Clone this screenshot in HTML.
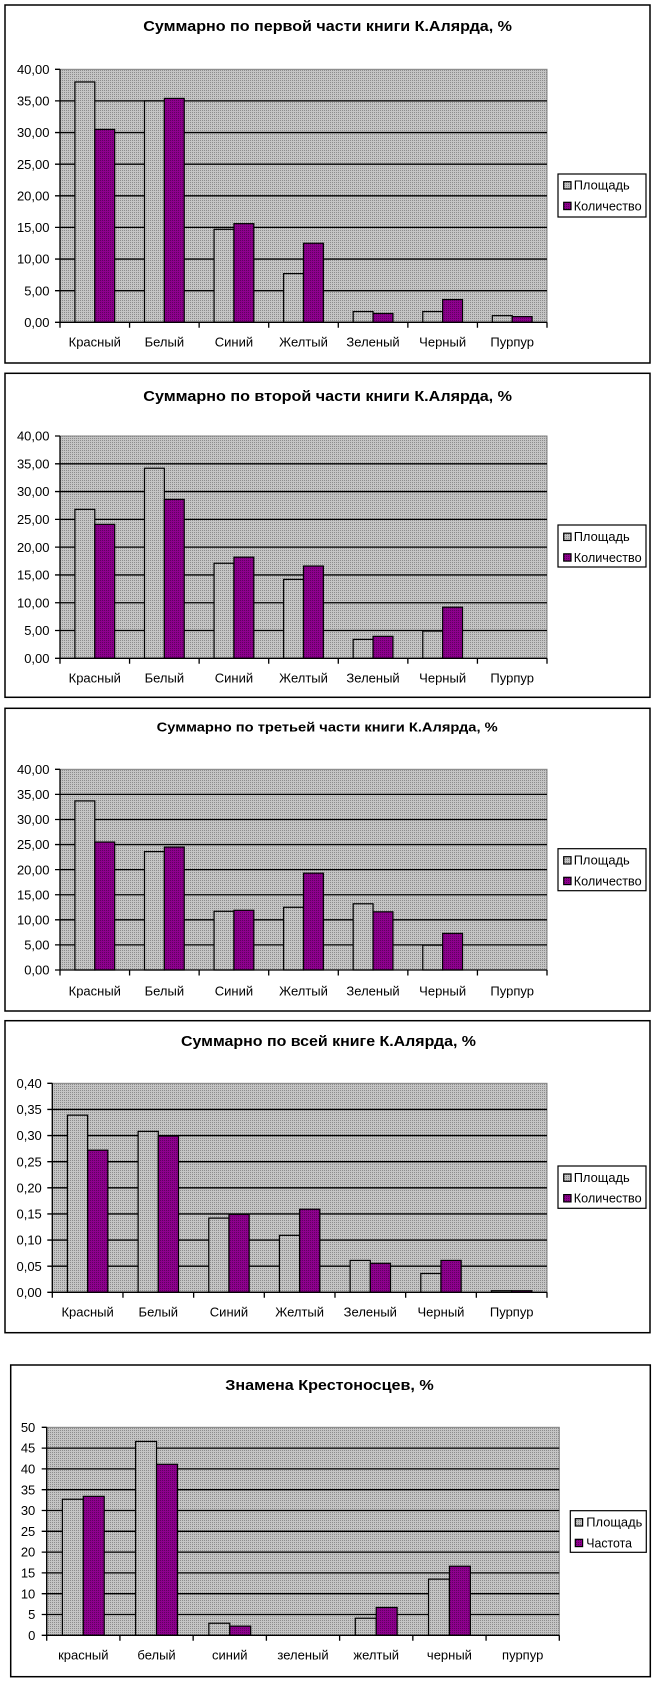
<!DOCTYPE html>
<html><head><meta charset="utf-8"><style>
html,body{margin:0;padding:0;background:#fff;}
svg{display:block;}
text{font-family:"Liberation Sans",Arial,sans-serif;fill:#000;}
.t{font-size:14.5px;font-weight:bold;}
.t3{font-size:13px;font-weight:bold;}
.y{font-size:13px;text-anchor:end;}
.c{font-size:13px;text-anchor:middle;}
.l{font-size:13px;}
.g{stroke:#000;stroke-width:1.3;fill:none;}
.a{fill:url(#bg);stroke:#000;stroke-width:1.2;}
.q{fill:url(#pu);stroke:#000;stroke-width:1.2;}
.f{fill:#fff;stroke:#000;stroke-width:1.5;}
.p{fill:url(#bg);stroke:#808080;stroke-width:1;}
.lg{fill:#fff;stroke:#000;stroke-width:1.2;}
</style></head><body>
<svg width="657" height="1685" viewBox="0 0 657 1685" xmlns="http://www.w3.org/2000/svg">
<defs>
<pattern id="bg" width="2" height="2" patternUnits="userSpaceOnUse"><rect width="2" height="2" fill="#c4c4c4"/><rect width="1" height="1" fill="#8c8c8c"/></pattern>
<pattern id="pu" width="2" height="2" patternUnits="userSpaceOnUse"><rect width="2" height="2" fill="#8e008e"/><rect width="1" height="1" fill="#600060"/></pattern>
</defs>
<rect width="657" height="1685" fill="#fff"/>

<!-- ===== Chart 1 ===== -->
<rect class="f" x="5" y="5" width="645" height="358"/>
<text class="t" x="143.3" y="31" textLength="368.7" lengthAdjust="spacingAndGlyphs">Суммарно по первой части книги К.Алярда, %</text>
<rect class="p" x="60" y="69.3" width="487" height="253"/>
<path class="g" d="M60 290.7H547M60 259.05H547M60 227.4H547M60 195.8H547M60 164.2H547M60 132.55H547M60 100.9H547"/>
<rect class="a" x="74.91" y="81.95" width="19.88" height="240.35"/>
<rect class="a" x="144.48" y="100.93" width="19.88" height="221.37"/>
<rect class="a" x="214.05" y="229.32" width="19.88" height="92.98"/>
<rect class="a" x="283.62" y="273.6" width="19.88" height="48.7"/>
<rect class="a" x="353.19" y="311.55" width="19.88" height="10.75"/>
<rect class="a" x="422.77" y="311.55" width="19.88" height="10.75"/>
<rect class="a" x="492.34" y="315.66" width="19.88" height="6.64"/>
<rect class="q" x="94.79" y="129.39" width="19.88" height="192.91"/>
<rect class="q" x="164.36" y="98.4" width="19.88" height="223.9"/>
<rect class="q" x="233.93" y="223.63" width="19.88" height="98.67"/>
<rect class="q" x="303.5" y="243.24" width="19.88" height="79.06"/>
<rect class="q" x="373.07" y="313.44" width="19.88" height="8.86"/>
<rect class="q" x="442.64" y="299.53" width="19.88" height="22.77"/>
<rect class="q" x="512.21" y="316.61" width="19.88" height="5.69"/>
<path class="g" d="M60 69.3V322.3H547M55 69.3H60M55 100.9H60M55 132.55H60M55 164.2H60M55 195.8H60M55 227.4H60M55 259.05H60M55 290.7H60M55 322.3H60M60 322.3V327.8M129.57 322.3V327.8M199.14 322.3V327.8M268.71 322.3V327.8M338.29 322.3V327.8M407.86 322.3V327.8M477.43 322.3V327.8M547 322.3V327.8"/>
<text class="y" x="49.5" y="73.9">40,00</text>
<text class="y" x="49.5" y="105.5">35,00</text>
<text class="y" x="49.5" y="137.15">30,00</text>
<text class="y" x="49.5" y="168.8">25,00</text>
<text class="y" x="49.5" y="200.4">20,00</text>
<text class="y" x="49.5" y="232">15,00</text>
<text class="y" x="49.5" y="263.65">10,00</text>
<text class="y" x="49.5" y="295.3">5,00</text>
<text class="y" x="49.5" y="326.9">0,00</text>
<text class="c" x="94.79" y="346.3">Красный</text>
<text class="c" x="164.36" y="346.3">Белый</text>
<text class="c" x="233.93" y="346.3">Синий</text>
<text class="c" x="303.5" y="346.3">Желтый</text>
<text class="c" x="373.07" y="346.3">Зеленый</text>
<text class="c" x="442.64" y="346.3">Черный</text>
<text class="c" x="512.21" y="346.3">Пурпур</text>
<rect class="lg" x="558" y="174" width="88" height="43"/>
<rect class="a" x="563.7" y="181.7" width="7.3" height="7.3"/>
<rect class="q" x="563.7" y="202.3" width="7.3" height="7.3"/>
<text class="l" x="573.7" y="189.7" textLength="56" lengthAdjust="spacingAndGlyphs">Площадь</text>
<text class="l" x="573.7" y="210.3" textLength="68" lengthAdjust="spacingAndGlyphs">Количество</text>

<!-- ===== Chart 2 ===== -->
<rect class="f" x="5" y="373.3" width="645" height="324"/>
<text class="t" x="143.3" y="401" textLength="368.7" lengthAdjust="spacingAndGlyphs">Суммарно по второй части книги К.Алярда, %</text>
<rect class="p" x="60" y="436" width="487" height="222.3"/>
<path class="g" d="M60 630.51H547M60 602.73H547M60 574.94H547M60 547.15H547M60 519.36H547M60 491.58H547M60 463.79H547"/>
<rect class="a" x="74.91" y="509.36" width="19.88" height="148.94"/>
<rect class="a" x="144.48" y="468.23" width="19.88" height="190.07"/>
<rect class="a" x="214.05" y="563.27" width="19.88" height="95.03"/>
<rect class="a" x="283.62" y="579.38" width="19.88" height="78.92"/>
<rect class="a" x="353.19" y="639.4" width="19.88" height="18.9"/>
<rect class="a" x="422.77" y="631.07" width="19.88" height="27.23"/>
<rect class="q" x="94.79" y="524.36" width="19.88" height="133.94"/>
<rect class="q" x="164.36" y="499.36" width="19.88" height="158.94"/>
<rect class="q" x="233.93" y="557.15" width="19.88" height="101.15"/>
<rect class="q" x="303.5" y="566.05" width="19.88" height="92.25"/>
<rect class="q" x="373.07" y="636.35" width="19.88" height="21.95"/>
<rect class="q" x="442.64" y="607.17" width="19.88" height="51.13"/>
<path class="g" d="M60 436V658.3H547M55 436H60M55 463.79H60M55 491.58H60M55 519.36H60M55 547.15H60M55 574.94H60M55 602.73H60M55 630.51H60M55 658.3H60M60 658.3V663.8M129.57 658.3V663.8M199.14 658.3V663.8M268.71 658.3V663.8M338.29 658.3V663.8M407.86 658.3V663.8M477.43 658.3V663.8M547 658.3V663.8"/>
<text class="y" x="49.5" y="440.6">40,00</text>
<text class="y" x="49.5" y="468.39">35,00</text>
<text class="y" x="49.5" y="496.18">30,00</text>
<text class="y" x="49.5" y="523.96">25,00</text>
<text class="y" x="49.5" y="551.75">20,00</text>
<text class="y" x="49.5" y="579.54">15,00</text>
<text class="y" x="49.5" y="607.33">10,00</text>
<text class="y" x="49.5" y="635.11">5,00</text>
<text class="y" x="49.5" y="662.9">0,00</text>
<text class="c" x="94.79" y="682.3">Красный</text>
<text class="c" x="164.36" y="682.3">Белый</text>
<text class="c" x="233.93" y="682.3">Синий</text>
<text class="c" x="303.5" y="682.3">Желтый</text>
<text class="c" x="373.07" y="682.3">Зеленый</text>
<text class="c" x="442.64" y="682.3">Черный</text>
<text class="c" x="512.21" y="682.3">Пурпур</text>
<rect class="lg" x="558" y="525" width="88" height="42"/>
<rect class="a" x="563.7" y="533.2" width="7.3" height="7.3"/>
<rect class="q" x="563.7" y="553.8" width="7.3" height="7.3"/>
<text class="l" x="573.7" y="541.2" textLength="56" lengthAdjust="spacingAndGlyphs">Площадь</text>
<text class="l" x="573.7" y="561.8" textLength="68" lengthAdjust="spacingAndGlyphs">Количество</text>

<!-- ===== Chart 3 ===== -->
<rect class="f" x="5" y="708.3" width="645" height="302.7"/>
<text class="t3" x="156.7" y="731.7" textLength="341" lengthAdjust="spacingAndGlyphs">Суммарно по третьей части книги К.Алярда, %</text>
<rect class="p" x="60" y="769.3" width="487" height="200.7"/>
<path class="g" d="M60 944.91H547M60 919.83H547M60 894.74H547M60 869.65H547M60 844.56H547M60 819.48H547M60 794.39H547"/>
<rect class="a" x="74.91" y="800.91" width="19.88" height="169.09"/>
<rect class="a" x="144.48" y="851.59" width="19.88" height="118.41"/>
<rect class="a" x="214.05" y="911.3" width="19.88" height="58.7"/>
<rect class="a" x="283.62" y="907.28" width="19.88" height="62.72"/>
<rect class="a" x="353.19" y="903.77" width="19.88" height="66.23"/>
<rect class="a" x="422.77" y="945.16" width="19.88" height="24.84"/>
<rect class="q" x="94.79" y="842.05" width="19.88" height="127.95"/>
<rect class="q" x="164.36" y="847.07" width="19.88" height="122.93"/>
<rect class="q" x="233.93" y="910.29" width="19.88" height="59.71"/>
<rect class="q" x="303.5" y="873.16" width="19.88" height="96.84"/>
<rect class="q" x="373.07" y="911.8" width="19.88" height="58.2"/>
<rect class="q" x="442.64" y="933.37" width="19.88" height="36.63"/>
<path class="g" d="M60 769.3V970H547M55 769.3H60M55 794.39H60M55 819.48H60M55 844.56H60M55 869.65H60M55 894.74H60M55 919.83H60M55 944.91H60M55 970H60M60 970V975.5M129.57 970V975.5M199.14 970V975.5M268.71 970V975.5M338.29 970V975.5M407.86 970V975.5M477.43 970V975.5M547 970V975.5"/>
<text class="y" x="49.5" y="773.9">40,00</text>
<text class="y" x="49.5" y="798.99">35,00</text>
<text class="y" x="49.5" y="824.08">30,00</text>
<text class="y" x="49.5" y="849.16">25,00</text>
<text class="y" x="49.5" y="874.25">20,00</text>
<text class="y" x="49.5" y="899.34">15,00</text>
<text class="y" x="49.5" y="924.43">10,00</text>
<text class="y" x="49.5" y="949.51">5,00</text>
<text class="y" x="49.5" y="974.6">0,00</text>
<text class="c" x="94.79" y="995.5">Красный</text>
<text class="c" x="164.36" y="995.5">Белый</text>
<text class="c" x="233.93" y="995.5">Синий</text>
<text class="c" x="303.5" y="995.5">Желтый</text>
<text class="c" x="373.07" y="995.5">Зеленый</text>
<text class="c" x="442.64" y="995.5">Черный</text>
<text class="c" x="512.21" y="995.5">Пурпур</text>
<rect class="lg" x="558" y="848.7" width="88" height="42"/>
<rect class="a" x="563.7" y="856.7" width="7.3" height="7.3"/>
<rect class="q" x="563.7" y="877.3" width="7.3" height="7.3"/>
<text class="l" x="573.7" y="864.7" textLength="56" lengthAdjust="spacingAndGlyphs">Площадь</text>
<text class="l" x="573.7" y="885.3" textLength="68" lengthAdjust="spacingAndGlyphs">Количество</text>

<!-- ===== Chart 4 ===== -->
<rect class="f" x="5" y="1020.7" width="645" height="312"/>
<text class="t" x="181" y="1046" textLength="295" lengthAdjust="spacingAndGlyphs">Суммарно по всей книге К.Алярда, %</text>
<rect class="p" x="52.3" y="1083.3" width="494.7" height="209"/>
<path class="g" d="M52.3 1266.18H547M52.3 1240.05H547M52.3 1213.93H547M52.3 1187.8H547M52.3 1161.68H547M52.3 1135.55H547M52.3 1109.43H547"/>
<rect class="a" x="67.44" y="1115.17" width="20.19" height="177.13"/>
<rect class="a" x="138.11" y="1131.37" width="20.19" height="160.93"/>
<rect class="a" x="208.78" y="1218.1" width="20.19" height="74.2"/>
<rect class="a" x="279.45" y="1235.35" width="20.19" height="56.95"/>
<rect class="a" x="350.13" y="1260.43" width="20.19" height="31.87"/>
<rect class="a" x="420.8" y="1273.49" width="20.19" height="18.81"/>
<rect class="a" x="491.47" y="1290.73" width="20.19" height="1.57"/>
<rect class="q" x="87.64" y="1150.18" width="20.19" height="142.12"/>
<rect class="q" x="158.31" y="1136.07" width="20.19" height="156.23"/>
<rect class="q" x="228.98" y="1214.45" width="20.19" height="77.85"/>
<rect class="q" x="299.65" y="1209.22" width="20.19" height="83.08"/>
<rect class="q" x="370.32" y="1263.3" width="20.19" height="29"/>
<rect class="q" x="440.99" y="1260.43" width="20.19" height="31.87"/>
<rect class="q" x="511.66" y="1290.73" width="20.19" height="1.57"/>
<path class="g" d="M52.3 1083.3V1292.3H547M47.3 1083.3H52.3M47.3 1109.43H52.3M47.3 1135.55H52.3M47.3 1161.68H52.3M47.3 1187.8H52.3M47.3 1213.93H52.3M47.3 1240.05H52.3M47.3 1266.18H52.3M47.3 1292.3H52.3M52.3 1292.3V1297.8M122.97 1292.3V1297.8M193.64 1292.3V1297.8M264.31 1292.3V1297.8M334.98 1292.3V1297.8M405.66 1292.3V1297.8M476.33 1292.3V1297.8M547 1292.3V1297.8"/>
<text class="y" x="41.8" y="1087.9">0,40</text>
<text class="y" x="41.8" y="1114.03">0,35</text>
<text class="y" x="41.8" y="1140.15">0,30</text>
<text class="y" x="41.8" y="1166.28">0,25</text>
<text class="y" x="41.8" y="1192.4">0,20</text>
<text class="y" x="41.8" y="1218.53">0,15</text>
<text class="y" x="41.8" y="1244.65">0,10</text>
<text class="y" x="41.8" y="1270.78">0,05</text>
<text class="y" x="41.8" y="1296.9">0,00</text>
<text class="c" x="87.64" y="1316.3">Красный</text>
<text class="c" x="158.31" y="1316.3">Белый</text>
<text class="c" x="228.98" y="1316.3">Синий</text>
<text class="c" x="299.65" y="1316.3">Желтый</text>
<text class="c" x="370.32" y="1316.3">Зеленый</text>
<text class="c" x="440.99" y="1316.3">Черный</text>
<text class="c" x="511.66" y="1316.3">Пурпур</text>
<rect class="lg" x="558" y="1166" width="88" height="42.3"/>
<rect class="a" x="563.7" y="1174" width="7.3" height="7.3"/>
<rect class="q" x="563.7" y="1194.6" width="7.3" height="7.3"/>
<text class="l" x="573.7" y="1182" textLength="56" lengthAdjust="spacingAndGlyphs">Площадь</text>
<text class="l" x="573.7" y="1202.6" textLength="68" lengthAdjust="spacingAndGlyphs">Количество</text>

<!-- ===== Chart 5 ===== -->
<rect class="f" x="10.7" y="1365" width="639.6" height="311.7"/>
<text class="t" x="225.3" y="1390" textLength="208.4" lengthAdjust="spacingAndGlyphs">Знамена Крестоносцев, %</text>
<rect class="p" x="46.7" y="1427.3" width="512.6" height="208"/>
<path class="g" d="M46.7 1614.5H559.3M46.7 1593.7H559.3M46.7 1572.9H559.3M46.7 1552.1H559.3M46.7 1531.3H559.3M46.7 1510.5H559.3M46.7 1489.7H559.3M46.7 1468.9H559.3M46.7 1448.1H559.3"/>
<rect class="a" x="62.39" y="1499.27" width="20.92" height="136.03"/>
<rect class="a" x="135.62" y="1441.44" width="20.92" height="193.86"/>
<rect class="a" x="208.85" y="1623.24" width="20.92" height="12.06"/>
<rect class="a" x="355.31" y="1618.24" width="20.92" height="17.06"/>
<rect class="a" x="428.53" y="1579.14" width="20.92" height="56.16"/>
<rect class="q" x="83.31" y="1496.36" width="20.92" height="138.94"/>
<rect class="q" x="156.54" y="1464.32" width="20.92" height="170.98"/>
<rect class="q" x="229.77" y="1626.15" width="20.92" height="9.15"/>
<rect class="q" x="376.23" y="1607.43" width="20.92" height="27.87"/>
<rect class="q" x="449.45" y="1566.24" width="20.92" height="69.06"/>
<path class="g" d="M46.7 1427.3V1635.3H559.3M41.7 1427.3H46.7M41.7 1448.1H46.7M41.7 1468.9H46.7M41.7 1489.7H46.7M41.7 1510.5H46.7M41.7 1531.3H46.7M41.7 1552.1H46.7M41.7 1572.9H46.7M41.7 1593.7H46.7M41.7 1614.5H46.7M41.7 1635.3H46.7M46.7 1635.3V1640.8M119.93 1635.3V1640.8M193.16 1635.3V1640.8M266.39 1635.3V1640.8M339.62 1635.3V1640.8M412.84 1635.3V1640.8M486.07 1635.3V1640.8M559.3 1635.3V1640.8"/>
<text class="y" x="35.3" y="1431.9">50</text>
<text class="y" x="35.3" y="1452.7">45</text>
<text class="y" x="35.3" y="1473.5">40</text>
<text class="y" x="35.3" y="1494.3">35</text>
<text class="y" x="35.3" y="1515.1">30</text>
<text class="y" x="35.3" y="1535.9">25</text>
<text class="y" x="35.3" y="1556.7">20</text>
<text class="y" x="35.3" y="1577.5">15</text>
<text class="y" x="35.3" y="1598.3">10</text>
<text class="y" x="35.3" y="1619.1">5</text>
<text class="y" x="35.3" y="1639.9">0</text>
<text class="c" x="83.31" y="1659.3">красный</text>
<text class="c" x="156.54" y="1659.3">белый</text>
<text class="c" x="229.77" y="1659.3">синий</text>
<text class="c" x="303" y="1659.3">зеленый</text>
<text class="c" x="376.23" y="1659.3">желтый</text>
<text class="c" x="449.45" y="1659.3">черный</text>
<text class="c" x="522.68" y="1659.3">пурпур</text>
<rect class="lg" x="570.3" y="1510.7" width="76" height="41.6"/>
<rect class="a" x="575.3" y="1518.7" width="7.3" height="7.3"/>
<rect class="q" x="575.3" y="1539.3" width="7.3" height="7.3"/>
<text class="l" x="586.3" y="1526.7" textLength="56" lengthAdjust="spacingAndGlyphs">Площадь</text>
<text class="l" x="586.3" y="1547.3" textLength="45.7" lengthAdjust="spacingAndGlyphs">Частота</text>
</svg>
</body></html>
